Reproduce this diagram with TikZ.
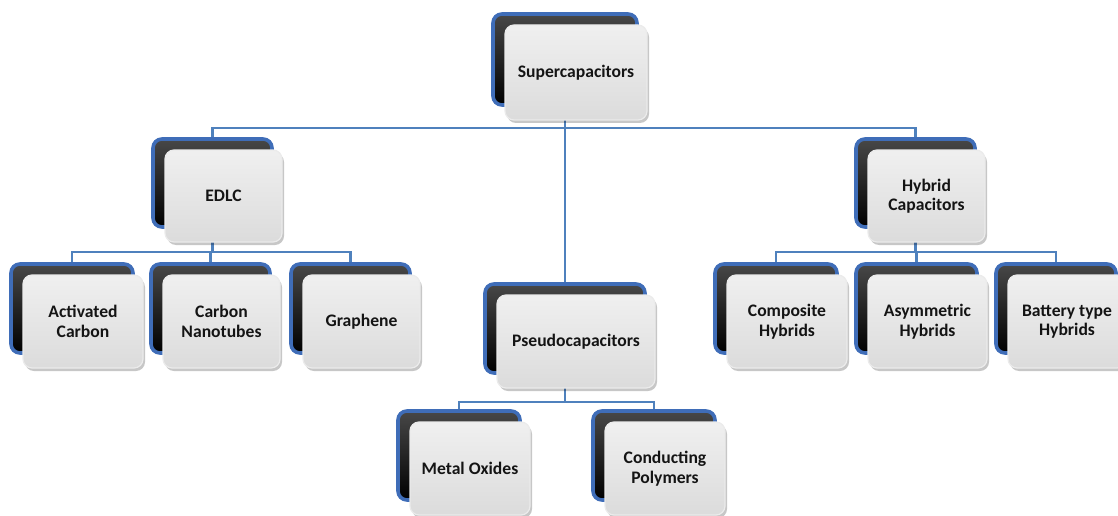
\documentclass[tikz,border=0pt]{standalone}
\usepackage{fontspec}
\setmainfont{Carlito}
\usetikzlibrary{calc,shadows,backgrounds}
\definecolor{linkblue}{HTML}{4F81BD}
\definecolor{edgeblue}{HTML}{3F6DB8}
\definecolor{textdark}{HTML}{141414}
\tikzset{
  backbox/.style={rounded corners=9pt, draw=edgeblue, line width=3.6pt,
    top color=black!72, bottom color=black, inner sep=0pt},
  frontbox/.style={rounded corners=9pt, draw=white!92!black, line width=1.2pt,
    top color=white!94!black, bottom color=white!86!black,
    drop shadow={shadow xshift=2pt, shadow yshift=-3pt, opacity=0.22, fill=black},
    inner sep=0pt, align=center, text=textdark,
    font=\fontsize{17.6}{19.5}\selectfont\bfseries},
  conn/.style={draw=linkblue, line width=2.9pt}
}
\newcommand\capnode[6]{%
  \node[backbox, minimum width={#4pt+2pt}, minimum height={#5pt-4pt}] (#1-b) at ($(#2,#3)+(-11,-13)$) {};
  \node[frontbox, minimum width=#4pt, minimum height=#5pt] (#1) at (#2,#3) {#6};
}
\begin{document}
\begin{tikzpicture}[x=1pt,y=-1pt]
\useasboundingbox (0,0) rectangle (1118,516);
\capnode{sup}{576}{72.5}{142}{95}{Supercapacitors}
\capnode{edlc}{223.5}{196}{117}{92}{EDLC}
\capnode{hyb}{926.5}{196}{117}{92}{Hybrid\\Capacitors}
\capnode{ac}{83}{321.5}{120}{93}{Activated\\Carbon}
\capnode{cn}{221.5}{321.5}{117}{93}{Carbon\\Nanotubes}
\capnode{gr}{361.5}{321.5}{117}{93}{Graphene}
\capnode{ps}{576}{341.5}{158}{93}{Pseudocapacitors}
\capnode{ch}{787}{321.5}{120}{93}{Composite\\Hybrids}
\capnode{ah}{927.5}{321.5}{119}{93}{Asymmetric\\Hybrids}
\capnode{bh}{1067}{321.5}{118}{93}{Battery type\\Hybrids}
\capnode{mo}{470}{468.5}{120}{93}{Metal Oxides}
\capnode{cp}{665}{468.5}{120}{93}{Conducting\\Polymers}
\coordinate (busA) at (0,128);
\coordinate (busB) at (0,252);
\coordinate (busC) at (0,402);
\begin{scope}[on background layer]
  \draw[conn] (sup-b.south) -- (sup-b.south |- busA) -| (edlc-b.north);
  \draw[conn] (sup-b.south |- busA) -| (hyb-b.north);
  \draw[conn] (sup-b.south) -- (ps-b.north);
  \draw[conn] (edlc-b.south) -- (edlc-b.south |- busB) -| (ac-b.north);
  \draw[conn] (edlc-b.south |- busB) -| (cn-b.north);
  \draw[conn] (edlc-b.south |- busB) -| (gr-b.north);
  \draw[conn] (hyb-b.south) -- (hyb-b.south |- busB) -| (ch-b.north);
  \draw[conn] (hyb-b.south |- busB) -| (ah-b.north);
  \draw[conn] (hyb-b.south |- busB) -| (bh-b.north);
  \draw[conn] (ps-b.south) -- (ps-b.south |- busC) -| (mo-b.north);
  \draw[conn] (ps-b.south |- busC) -| (cp-b.north);
\end{scope}
\end{tikzpicture}
\end{document}
